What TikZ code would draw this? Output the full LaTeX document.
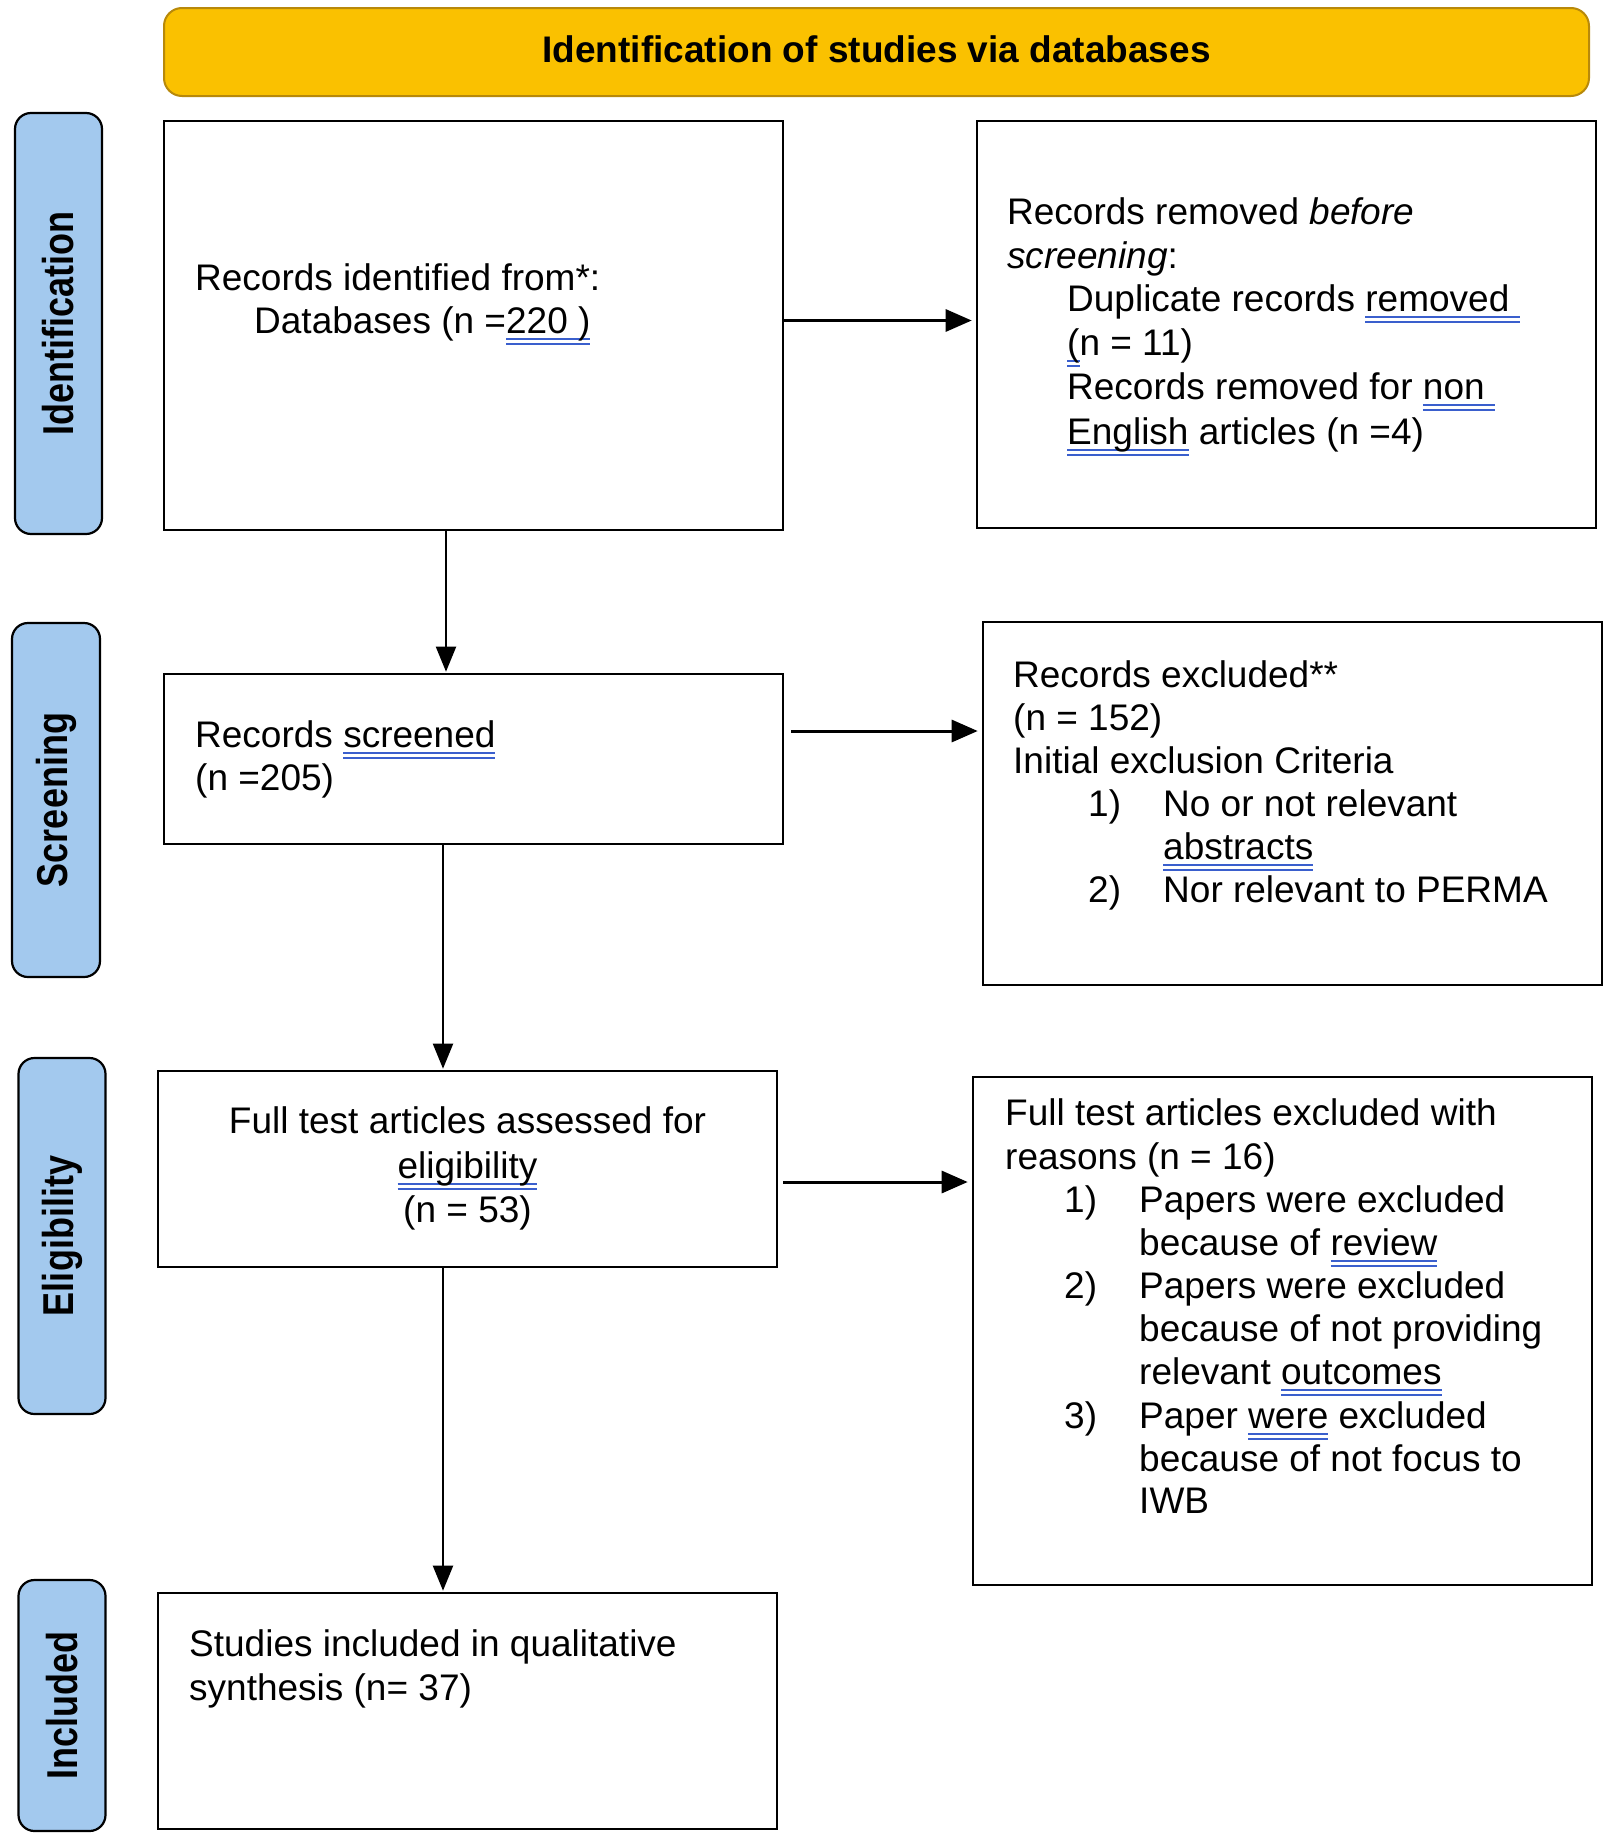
\documentclass[tikz,border=0pt]{standalone}
\usepackage{fontspec}
\usepackage{graphicx}
\setmainfont{Liberation Sans}
\usetikzlibrary{arrows.meta}
\definecolor{banneryellow}{HTML}{FAC100}
\definecolor{bannerborder}{HTML}{B8890A}
\definecolor{sideblue}{HTML}{A3C9EE}
\definecolor{spellblue}{HTML}{3A5FCD}
\newcommand\spellul[1]{\leavevmode\setbox0=\hbox{#1}\rlap{\color{spellblue}\rule[-7pt]{\wd0}{1.6pt}}\rlap{\color{spellblue}\rule[-11.5pt]{\wd0}{1.6pt}}\box0\relax}
\newcommand\fsmain{\fontsize{37}{43.5}\selectfont}
\begin{document}
\begin{tikzpicture}[x=1pt,y=-1pt,
  box/.style={draw, line width=2.6pt, inner sep=0pt, minimum width=619pt},
  sidelab/.style={draw=black, line width=2.2pt, fill=sideblue, rounded corners=16pt, inner sep=0pt, font=\bfseries\fontsize{36}{40}\selectfont, rotate=90},
  txt/.style={anchor=base west, inner sep=0pt, font=\fsmain},
  ctxt/.style={anchor=base, inner sep=0pt, font=\fsmain},
  harr/.style={-{Triangle[length=26pt,width=22pt]}, line width=3pt, shorten >=4pt},
  varr/.style={-{Triangle[length=25pt,width=20pt]}, line width=2pt, shorten >=1pt}]
\useasboundingbox (0,0) rectangle (1609,1839);
\fill[white] (0,0) rectangle (1609,1839);

% banner
\node[draw=bannerborder, line width=2pt, fill=banneryellow, rounded corners=18pt, minimum width=1425pt, minimum height=88pt, inner sep=0pt, font=\bfseries\fsmain] (banner) at (876.5,52) {\raisebox{6pt}{Identification of studies via databases}};

% side labels
\node[sidelab, minimum width=421pt, minimum height=87pt] (lid) at (58.5,323.5) {\scalebox{1}[1.2]{Identification}};
\node[sidelab, minimum width=354pt, minimum height=88pt] (lscr) at (56,800) {\scalebox{1}[1.2]{Screening}};
\node[sidelab, minimum width=356pt, minimum height=87pt] (lel) at (62,1236) {\scalebox{1}[1.2]{Eligibility}};
\node[sidelab, minimum width=251pt, minimum height=87pt] (lin) at (62,1705.5) {\scalebox{1}[1.2]{Included}};

% boxes
\node[box, minimum height=409pt] (box1) at (473.5,325.5) {};
\node[box, minimum height=407pt] (box2) at (1286.5,324.5) {};
\node[box, minimum height=170pt] (box3) at (473.5,759) {};
\node[box, minimum height=363pt] (box4) at (1292.5,803.5) {};
\node[box, minimum height=196pt] (box5) at (467.5,1169) {};
\node[box, minimum height=508pt] (box6) at (1282.5,1331) {};
\node[box, minimum height=236pt] (box7) at (467.5,1711) {};

% box1 text
\node[txt] (t1a) at (195,290) {Records identified from*:};
\node[txt] (t1b) at (254,333) {Databases (n =\spellul{220 )}};

% box2 text
\node[txt] (t2a) at (1007,224) {Records removed \textit{before}};
\node[txt] (t2b) at (1007,268) {\textit{screening}:};
\node[txt] (t2c) at (1067,311) {Duplicate records \spellul{removed }};
\node[txt] (t2d) at (1067,355) {\spellul{(}n = 11)};
\node[txt] (t2e) at (1067,399) {Records removed for \spellul{non }};
\node[txt] (t2f) at (1067,444) {\spellul{English} articles (n =4)};

% box3 text
\node[txt] (t3a) at (195,747) {Records \spellul{screened}};
\node[txt] (t3b) at (195,790) {(n =205)};

% box4 text
\node[txt] (t4a) at (1013,687) {Records excluded**};
\node[txt] (t4b) at (1013,730) {(n = 152)};
\node[txt] (t4c) at (1013,773) {Initial exclusion Criteria};
\node[txt] (t4d) at (1088,816) {1)};
\node[txt] (t4e) at (1163,816) {No or not relevant};
\node[txt] (t4f) at (1163,859) {\spellul{abstracts}};
\node[txt] (t4g) at (1088,902) {2)};
\node[txt] (t4h) at (1163,902) {Nor relevant to PERMA};

% box5 text
\node[ctxt] (t5a) at (467.5,1133) {Full test articles assessed for};
\node[ctxt] (t5b) at (467.5,1178) {\spellul{eligibility}};
\node[ctxt] (t5c) at (467.5,1222) {(n = 53)};

% box6 text
\node[txt] (t6a) at (1005,1125) {Full test articles excluded with};
\node[txt] (t6b) at (1005,1169) {reasons (n = 16)};
\node[txt] (t6c) at (1064,1212) {1)};
\node[txt] (t6d) at (1139,1212) {Papers were excluded};
\node[txt] (t6e) at (1139,1255) {because of \spellul{review}};
\node[txt] (t6f) at (1064,1298) {2)};
\node[txt] (t6g) at (1139,1298) {Papers were excluded};
\node[txt] (t6h) at (1139,1341) {because of not providing};
\node[txt] (t6i) at (1139,1384) {relevant \spellul{outcomes}};
\node[txt] (t6j) at (1064,1428) {3)};
\node[txt] (t6k) at (1139,1428) {Paper \spellul{were} excluded};
\node[txt] (t6l) at (1139,1471) {because of not focus to};
\node[txt] (t6m) at (1139,1513) {IWB};

% box7 text
\node[txt] (t7a) at (189,1656) {Studies included in qualitative};
\node[txt] (t7b) at (189,1700) {synthesis (n= 37)};

% arrows
\draw[harr] ([yshift=5pt]box1.east) -- ([yshift=5pt]box1.east -| box2.west);
\draw[harr] ([yshift=28pt,xshift=7pt]box3.east) -- ([yshift=28pt]box3.east -| box4.west);
\draw[harr] ([yshift=-13pt,xshift=5pt]box5.east) -- ([yshift=-13pt]box5.east -| box6.west);
\draw[varr] ([xshift=-27.5pt]box1.south) -- ([xshift=-27.5pt]box1.south |- box3.north);
\draw[varr] ([xshift=-30.5pt]box3.south) -- ([xshift=-30.5pt]box3.south |- box5.north);
\draw[varr] ([xshift=-24.5pt]box5.south) -- ([xshift=-24.5pt]box5.south |- box7.north);
\end{tikzpicture}
\end{document}
